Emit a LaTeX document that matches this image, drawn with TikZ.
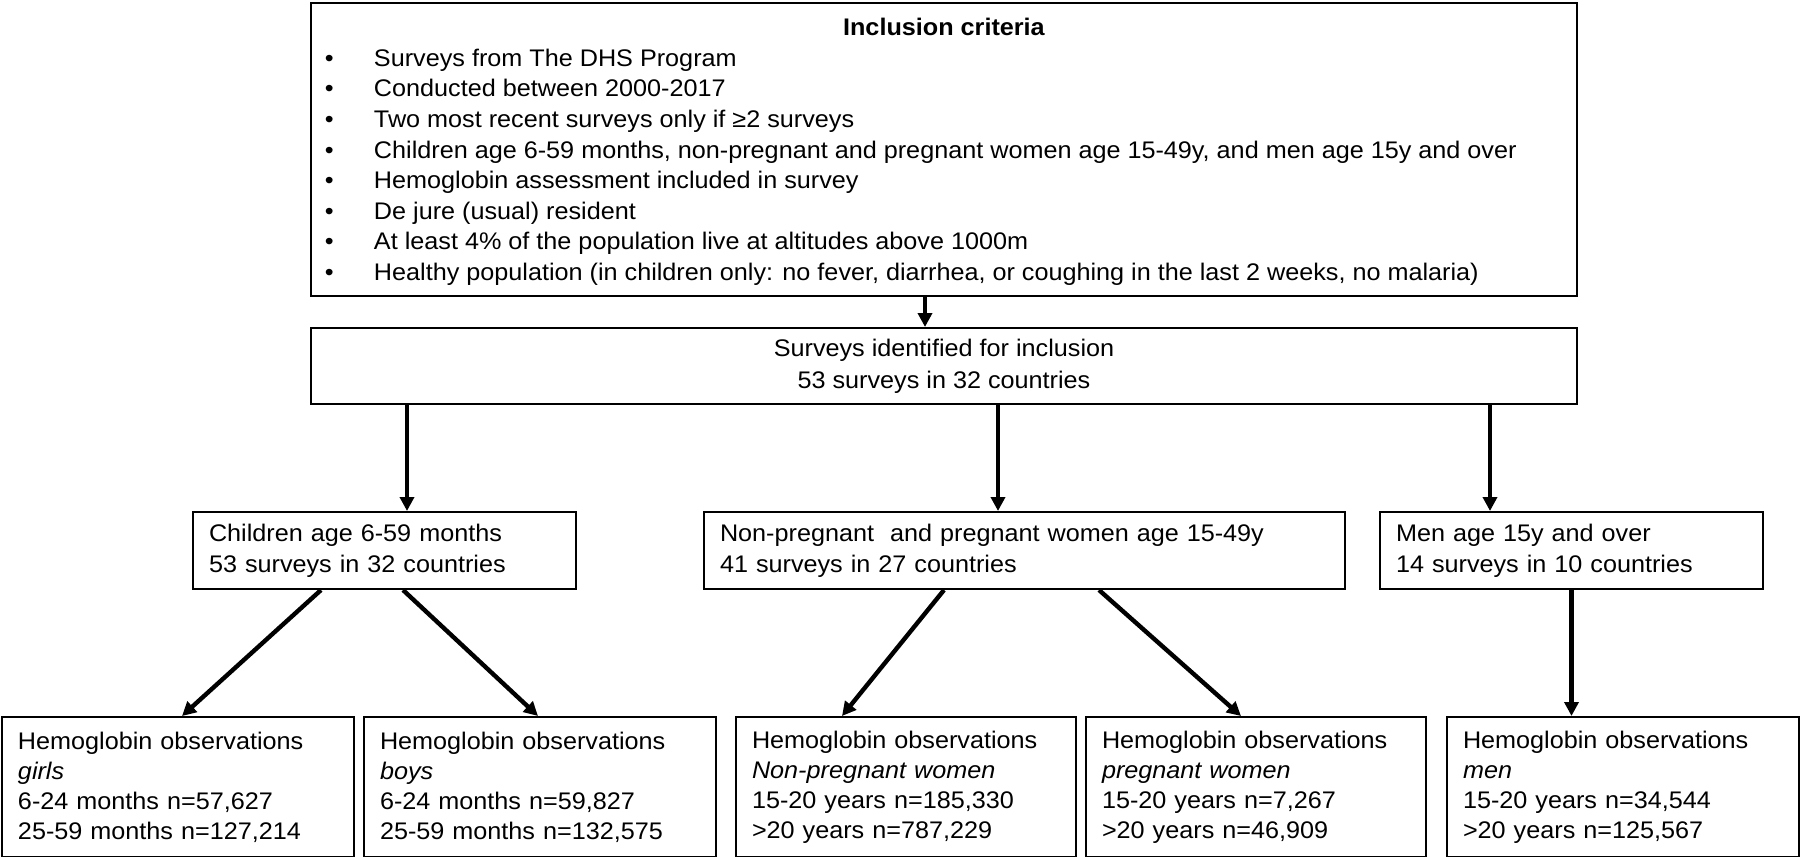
\documentclass[tikz,border=0pt]{standalone}
\usepackage{fontspec}
\setmainfont{Liberation Sans}[FakeStretch=1.05]
\usetikzlibrary{arrows.meta}

\newcommand{\critline}[1]{\hspace*{6.9pt}\makebox[24.6pt][l]{\textbullet}#1\par}

\begin{document}
\begin{tikzpicture}[x=0.5pt, y=-0.5pt,
    box/.style={draw, line width=1pt, anchor=north west, inner ysep=0pt, inner xsep=8pt, align=left},
    midbox/.style={box, text width=#1, minimum height=38.5pt, font=\fontsize{12}{15.5}\selectfont},
    obsbox/.style={box, text width=#1, minimum height=70pt, font=\fontsize{12}{15}\selectfont},
    arr/.style={line width=2.2pt, -{Triangle[length=7pt, width=7pt]}}]

    \useasboundingbox (0,0) rectangle (1800,857);

    \node[box, inner sep=0pt] (crit) at (310,2) {\parbox[t][146.5pt][t]{633pt}{%
        \fontsize{12}{15.3}\selectfont
        \centering\textbf{\rule{0pt}{16.3pt}Inclusion criteria}\par
        \raggedright
        \critline{Surveys from The DHS Program}
        \critline{Conducted between 2000-2017}
        \critline{Two most recent surveys only if ≥2 surveys}
        \critline{Children age 6-59 months, non-pregnant and pregnant women age 15-49y, and men age 15y and over}
        \critline{Hemoglobin assessment included in survey}
        \critline{De jure (usual) resident}
        \critline{At least 4\% of the population live at altitudes above 1000m}
        \critline{Healthy population (in children only: no fever, diarrhea, or coughing in the last 2 weeks, no malaria)}}};

    \node[box, minimum width=633pt, minimum height=38pt, align=center, font=\fontsize{12}{16}\selectfont] (surv) at (310,327)
        {Surveys identified for inclusion\\53 surveys in 32 countries};

    \node[midbox=175.5pt] (child) at (192,511) {Children age 6-59 months\\53 surveys in 32 countries};
    \node[midbox=304.5pt] (women) at (703,511) {Non-pregnant \ and pregnant women age 15-49y\\41 surveys in 27 countries};
    \node[midbox=175.5pt] (mmen) at (1379,511) {Men age 15y and over\\14 surveys in 10 countries};

    \node[obsbox=160pt] (girls) at (1,716) {Hemoglobin observations\\\textit{girls}\\6-24 months n=57,627\\25-59 months n=127,214};
    \node[obsbox=160pt] (boys) at (363,716) {Hemoglobin observations\\\textit{boys}\\6-24 months n=59,827\\25-59 months n=132,575};
    \node[obsbox=154pt] (npreg) at (735,716) {Hemoglobin observations\\\textit{Non-pregnant women}\\15-20 years n=185,330\\>20 years n=787,229};
    \node[obsbox=154pt] (preg) at (1085,716) {Hemoglobin observations\\\textit{pregnant women}\\15-20 years n=7,267\\>20 years n=46,909};
    \node[obsbox=160pt] (hmen) at (1446,716) {Hemoglobin observations\\\textit{men}\\15-20 years n=34,544\\>20 years n=125,567};

    \coordinate (tochild) at ([xshift=11.25pt]child.north);
    \coordinate (towomen) at ([xshift=-13.25pt]women.north);
    \coordinate (tomen) at ([xshift=-40.75pt]mmen.north);

    \draw[arr] ([xshift=-9.5pt]crit.south) -- ([xshift=-9.5pt]surv.north);
    \draw[arr] (surv.south -| tochild) -- (tochild);
    \draw[arr] (surv.south -| towomen) -- (towomen);
    \draw[arr] (surv.south -| tomen) -- (tomen);
    \draw[arr] ([xshift=-31.75pt]child.south) -- ([xshift=2pt]girls.north);
    \draw[arr] ([xshift=9.25pt]child.south) -- ([xshift=-1pt]boys.north);
    \draw[arr] ([xshift=-40.25pt]women.south) -- ([xshift=-32pt]npreg.north);
    \draw[arr] ([xshift=37.25pt]women.south) -- ([xshift=-7.5pt]preg.north);
    \draw[arr] (mmen.south) -- (mmen.south |- hmen.north);
\end{tikzpicture}
\end{document}
